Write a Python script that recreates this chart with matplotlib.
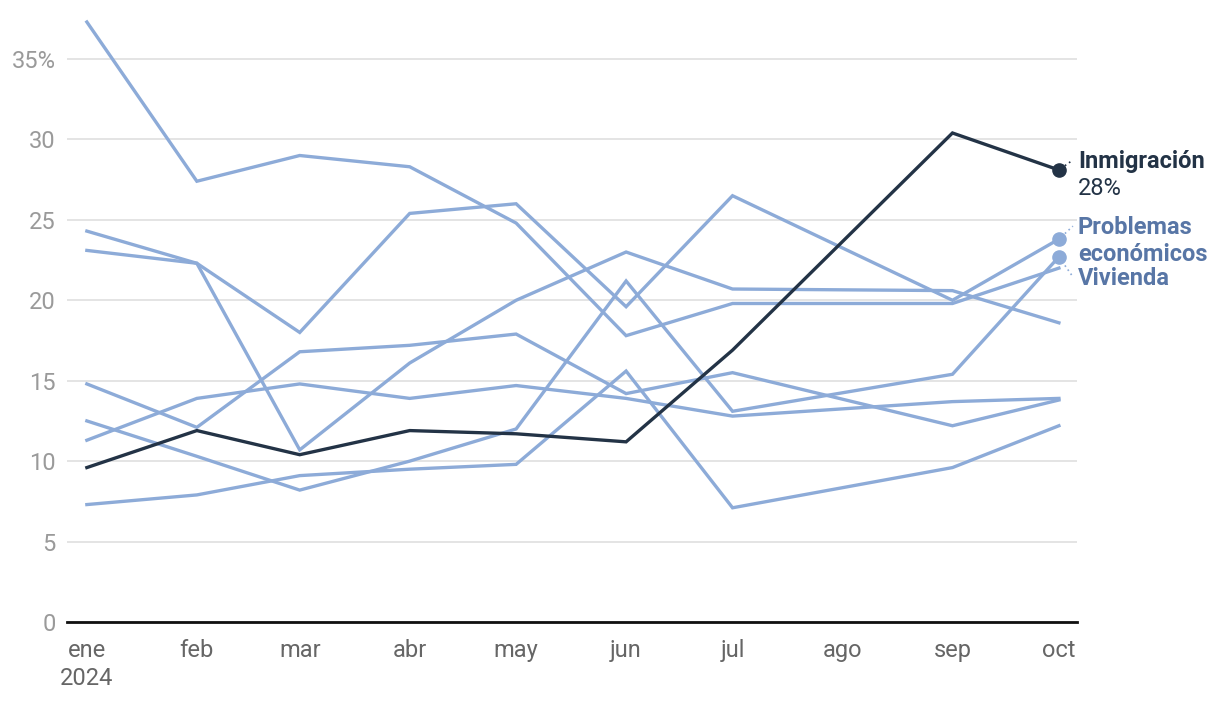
import matplotlib
matplotlib.use("Agg")
import matplotlib.pyplot as plt
import matplotlib.dates as mdates
import matplotlib.transforms as mtransforms
import pandas as pd

# ---- data ----
tick_labels = ["ene\n2024", "feb", "mar", "abr", "may", "jun", "jul", "ago", "sep", "oct"]
tick_dates = ["2024-01-01", "2024-02-01", "2024-03-01", "2024-04-01", "2024-05-01",
              "2024-06-01", "2024-07-01", "2024-08-01", "2024-09-01", "2024-10-01"]
data_dates = ["2024-01-01", "2024-02-01", "2024-03-01", "2024-04-01", "2024-05-01",
              "2024-06-01", "2024-07-01", "2024-09-01", "2024-10-01"]

inmigracion = [9.6, 11.9, 10.4, 11.9, 11.7, 11.2, 16.9, 30.4, 28.1]
problemas_economicos = [24.3, 22.3, 18.0, 25.4, 26.0, 19.6, 26.5, 20.0, 23.8]
vivienda = [12.5, 10.3, 8.2, 10.0, 12.0, 21.2, 13.1, 15.4, 22.7]
otro_1 = [37.3, 27.4, 29.0, 28.3, 24.8, 17.8, 19.8, 19.8, 22.0]
otro_2 = [23.1, 22.3, 10.7, 16.1, 20.0, 23.0, 20.7, 20.6, 18.6]
otro_3 = [14.8, 12.1, 16.8, 17.2, 17.9, 14.2, 15.5, 12.2, 13.8]
otro_4 = [11.3, 13.9, 14.8, 13.9, 14.7, 13.9, 12.8, 13.7, 13.9]
otro_5 = [7.3, 7.9, 9.1, 9.5, 9.8, 15.6, 7.1, 9.6, 12.2]

y_ticks = [0, 5, 10, 15, 20, 25, 30, 35]
y_tick_labels = ["0", "5", "10", "15", "20", "25", "30", "35%"]

# ---- style ----
LIGHT = "#8dabd8"
DARK = "#233346"
LABEL_BLUE = "#5876a6"
FS = 17
plt.rcParams["font.family"] = ["Roboto", "DejaVu Sans"]

W, H = 1220, 702
fig = plt.figure(figsize=(W / 100, H / 100), dpi=100)
ax = fig.add_axes([67 / W, (H - 622) / H, 1010 / W, 612 / H])

x = mdates.date2num(pd.to_datetime(data_dates))
xt = mdates.date2num(pd.to_datetime(tick_dates))

for s in [otro_1, otro_2, otro_3, otro_4, otro_5, vivienda, problemas_economicos]:
    ax.plot(x, s, color=LIGHT, lw=2.4, solid_joinstyle="miter", clip_on=False, zorder=3)
ax.plot(x, inmigracion, color=DARK, lw=2.4, solid_joinstyle="miter", clip_on=False, zorder=4)

# end dots
ax.plot(x[-1], problemas_economicos[-1], "o", color=LIGHT, ms=9.5, clip_on=False, zorder=5)
ax.plot(x[-1], vivienda[-1], "o", color=LIGHT, ms=9.5, clip_on=False, zorder=5)
ax.plot(x[-1], inmigracion[-1], "o", color=DARK, ms=9.5, clip_on=False, zorder=6)

# axes
ax.set_xlim(xt[0] - 5.6, xt[-1] + 5.1)
ax.set_ylim(0, (622 - 10) / 16.086)
ax.set_yticks(y_ticks)
ax.set_yticklabels(y_tick_labels)
ax.set_xticks(xt)
ax.set_xticklabels(tick_labels, linespacing=1.32)
ax.tick_params(axis="y", length=0, pad=8, labelsize=FS, labelcolor="#9a9a9a")
ax.tick_params(axis="x", length=0, pad=12, labelsize=FS, labelcolor="#666666")
ax.grid(axis="y", color="#e2e2e2", lw=1.3, zorder=0)
ax.grid(axis="x", visible=False)
for sp in ["left", "right", "top"]:
    ax.spines[sp].set_visible(False)
ax.spines["bottom"].set_color("#111111")
ax.spines["bottom"].set_linewidth(2)
ax.spines["bottom"].set_zorder(7)

# labels (baseline offsets in pixels from the end dots)
def off(dx, dy):
    return mtransforms.offset_copy(ax.transData, fig=fig, x=dx, y=dy, units="dots")

ax.text(x[-1], inmigracion[-1], "Inmigración", transform=off(19, 2), ha="left", va="baseline",
        fontsize=FS, fontweight="bold", color=DARK)
ax.text(x[-1], inmigracion[-1], "28%", transform=off(19, -25), ha="left", va="baseline",
        fontsize=FS, color=DARK)
ax.text(x[-1], problemas_economicos[-1], "Problemas", transform=off(19, 5),
        ha="left", va="baseline", fontsize=FS, fontweight="bold", color=LABEL_BLUE)
ax.text(x[-1], problemas_economicos[-1], "económicos", transform=off(19, -22),
        ha="left", va="baseline", fontsize=FS, fontweight="bold", color=LABEL_BLUE)
ax.text(x[-1], vivienda[-1], "Vivienda", transform=off(19, -28), ha="left", va="baseline",
        fontsize=FS, fontweight="bold", color=LABEL_BLUE)

# dotted connectors (pixel offsets from end points)
def connector(yv, dx1, dy1, color):
    tr = ax.transData
    p0 = tr.transform((x[-1], yv))
    inv = tr.inverted()
    a = inv.transform((p0[0] + 6, p0[1] + dy1 * 6 / dx1))
    b = inv.transform((p0[0] + dx1, p0[1] + dy1))
    ax.plot([a[0], b[0]], [a[1], b[1]], ls=(0, (1, 2)), color=color, lw=1.2, clip_on=False)

connector(inmigracion[-1], 14, 10, DARK)
connector(problemas_economicos[-1], 14, 13, LIGHT)
connector(vivienda[-1], 14, -20, LIGHT)

fig.savefig("out.png", dpi=100)
